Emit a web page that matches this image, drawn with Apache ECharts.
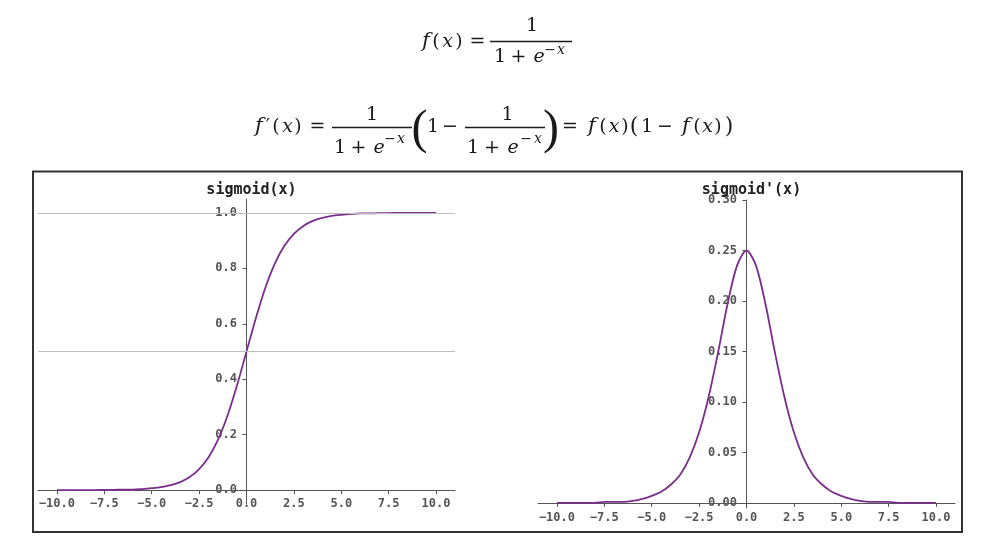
<!DOCTYPE html>
<html><head><meta charset="utf-8">
<script src="https://cdn.jsdelivr.net/npm/echarts@6/dist/echarts.min.js"></script>
<style>html,body{margin:0;padding:0;background:#fff}#c{width:991px;height:543px}</style>
</head><body><div id="c"></div>
<script>
// ---- data ----
const xValues = [-10,-9.5,-9,-8.5,-8,-7.5,-7,-6.5,-6,-5.5,-5,-4.5,-4,-3.5,-3,-2.5,-2,-1.5,-1,-0.5,0,0.5,1,1.5,2,2.5,3,3.5,4,4.5,5,5.5,6,6.5,7,7.5,8,8.5,9,9.5,10];
const sigmoidValues = [0.000,0.000,0.000,0.000,0.000,0.001,0.001,0.002,0.002,0.004,0.007,0.011,0.018,0.029,0.047,0.076,0.119,0.182,0.269,0.378,0.500,0.622,0.731,0.818,0.881,0.924,0.953,0.971,0.982,0.989,0.993,0.996,0.998,0.998,0.999,0.999,1.000,1.000,1.000,1.000,1.000];
const sigmoidDerivValues = [0.000,0.000,0.000,0.000,0.000,0.001,0.001,0.001,0.002,0.004,0.007,0.011,0.018,0.028,0.045,0.070,0.105,0.149,0.197,0.235,0.250,0.235,0.197,0.149,0.105,0.070,0.045,0.028,0.018,0.011,0.007,0.004,0.002,0.001,0.001,0.001,0.000,0.000,0.000,0.000,0.000];
const xTickValues = [-10,-7.5,-5,-2.5,0,2.5,5,7.5,10];
const yTickValuesLeft = [0,0.2,0.4,0.6,0.8,1.0];
const yTickValuesRight = [0,0.05,0.10,0.15,0.20,0.25,0.30];
const refLines = [0.5, 1.0];
const titles = ['sigmoid(x)', "sigmoid'(x)"];

// ---- formula layout helpers ----
const FF = 'DejaVu Serif';
const INK = '#1a1a1a';
function piece(p) {
  const [str, x, y, kind] = p;
  const k = kind || '';
  let size = 19, style = 'normal', fam = FF;
  if (k.indexOf('s') >= 0) size = 14;
  if (k.indexOf('i') >= 0) style = 'italic';
  if (k.indexOf('F') >= 0) size = 21;
  if (k.indexOf('L') >= 0) size = 22;
  if (k.indexOf('B') >= 0) { size = 48; fam = 'Liberation Serif'; }
  return {type:'text', x:x, y:y, silent:true, z:10,
    style:{text:str, fill:INK, fontSize:size, fontFamily:fam, fontStyle:style,
      align:'center', verticalAlign:'middle', textAlign:'center', textVerticalAlign:'middle'}};
}
function bar(x1, x2, y) {
  return {type:'line', silent:true, z:10, shape:{x1:x1, y1:y, x2:x2, y2:y}, style:{stroke:INK, lineWidth:1.3}};
}
const f1 = [
  ['f',426,42,'iF'],['(',436,42],['x',447.5,42,'i'],[')',459,42],['=',477.5,42],
  ['1',532,26],['1',500,57],['+',518.5,57],['e',539,57,'i'],['\u2212',550,50,'s'],['x',561,50,'si']
];
const M = 127, N = 115, D = 148, S = 139;
const f2 = [
  ['f',259,M,'iF'],['\u2032',268,M],['(',276,M],['x',287.5,M,'i'],[')',298,M],['=',317.5,M],
  ['1',372,N],['1',340,D],['+',358.5,D],['e',379,D,'i'],['\u2212',390,S,'s'],['x',401,S,'si'],
  ['(',419.5,130,'B'],
  ['1',433,M],['\u2212',450,M],
  ['1',507.5,N],['1',473,D],['+',492,D],['e',513,D,'i'],['\u2212',526,S,'s'],['x',538,S,'si'],
  [')',551,130,'B'],
  ['=',570,M],
  ['f',592,M,'iF'],['(',603,M],['x',614,M,'i'],[')',625,M],['(',634,M,'L'],['1',647,M],['\u2212',665,M],
  ['f',686,M,'iF'],['(',697,M],['x',707.5,M,'i'],[')',718,M],[')',729,M,'L']
];
const graphics = [
  {type:'rect', silent:true, shape:{x:33, y:171.5, width:929, height:360.5}, style:{fill:'none', stroke:'#333', lineWidth:2}},
  bar(490,572,41.5), bar(332,412,127.5), bar(465,545,127.5)
].concat(f1.map(piece)).concat(f2.map(piece));

// ---- chart ----
const lineColor = '#7b2d8c';
const axisCol = '#555';
const labelStyle = {fontFamily:'DejaVu Sans Mono', fontSize:12, color:'#555', fontWeight:'bold'};
const fmt = d => v => (v < 0 ? '\u2212' : '') + Math.abs(v).toFixed(d);

function xAx(gi, margin) {
  return {type:'value', gridIndex:gi, min:-11, max:11,
    axisLine:{onZero:true, lineStyle:{color:axisCol, width:1}},
    axisTick:{customValues:xTickValues, length:4, lineStyle:{color:axisCol}},
    axisLabel:Object.assign({customValues:xTickValues, formatter:fmt(1), margin:margin}, labelStyle),
    splitLine:{show:false}};
}
function yAx(gi, min, max, ticks, d) {
  return {type:'value', gridIndex:gi, min:min, max:max,
    axisLine:{onZero:true, lineStyle:{color:axisCol, width:1}},
    axisTick:{customValues:ticks, length:4, lineStyle:{color:axisCol}},
    axisLabel:Object.assign({customValues:ticks, formatter:fmt(d), margin:-199}, labelStyle),
    splitLine:{show:false}};
}

const chart = echarts.init(document.getElementById('c'));
chart.setOption({
  animation:false,
  backgroundColor:'#fff',
  title:[
    {text:titles[0], left:246.5, top:178, textAlign:'center', textStyle:{fontFamily:'DejaVu Sans Mono', fontWeight:'bold', fontSize:15, color:'#222'}},
    {text:titles[1], left:746.5, top:178, textAlign:'center', textStyle:{fontFamily:'DejaVu Sans Mono', fontWeight:'bold', fontSize:15, color:'#222'}}
  ],
  grid:[
    {left:38, top:199, width:417, height:305},
    {left:538, top:200, width:417, height:308}
  ],
  xAxis:[xAx(0,-6), xAx(1,4)],
  yAxis:[yAx(0,-0.05,1.05,yTickValuesLeft,1), yAx(1,-0.005,0.30,yTickValuesRight,2)],
  series:[
    {type:'line', xAxisIndex:0, yAxisIndex:0, showSymbol:false, smooth:0.3,
     data:xValues.map((x,i)=>[x, sigmoidValues[i]]), lineStyle:{color:lineColor, width:1.8},
     markLine:{silent:true, symbol:['none','none'], label:{show:false},
       lineStyle:{color:'#bdbdbd', type:'solid', width:1},
       data:refLines.map(v=>({yAxis:v}))}, z:3},
    {type:'line', xAxisIndex:1, yAxisIndex:1, showSymbol:false, smooth:0.3,
     data:xValues.map((x,i)=>[x, sigmoidDerivValues[i]]), lineStyle:{color:lineColor, width:1.8}, z:3}
  ],
  graphic:graphics
});
</script></body></html>
